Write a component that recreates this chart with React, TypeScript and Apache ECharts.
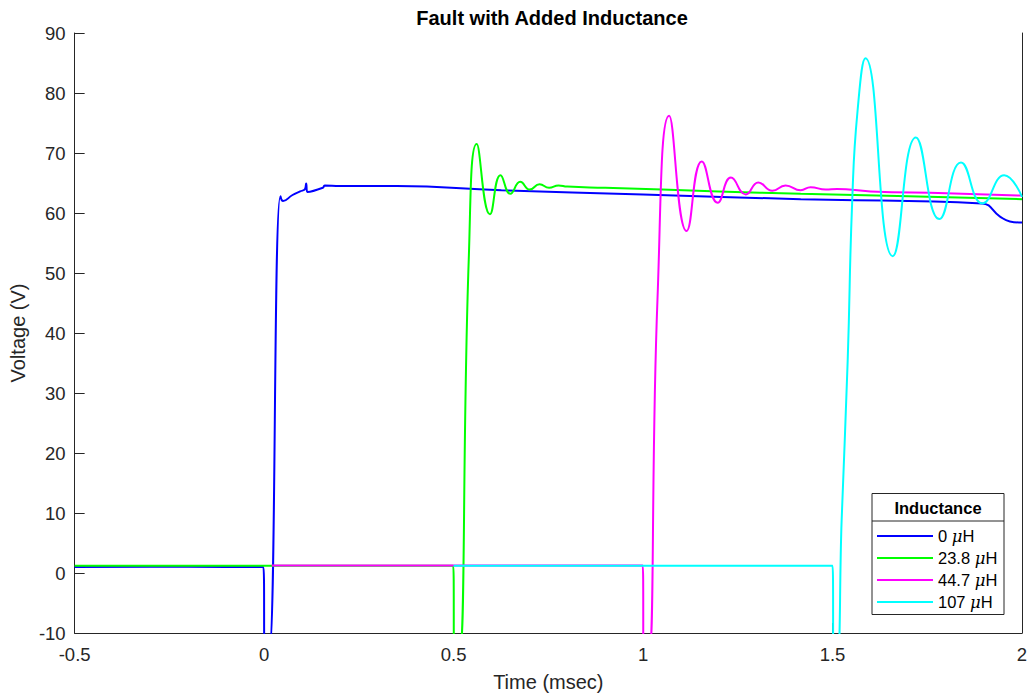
import React, { useEffect, useRef } from "react";
import * as echarts from "echarts";

// ---- data ----
const seriesNames = ["0 μH", "23.8 μH", "44.7 μH", "107 μH"];
const seriesColors = ["#0000ff", "#00ff00", "#ff00ff", "#00ffff"];

const blueT = [-0.5, -0.3, -0.1, -0.002, 0.002, 0.012, 0.043, 0.05, 0.075, 0.095, 0.108, 0.111, 0.114, 0.155, 0.16, 0.2, 0.35, 0.626, 1.0, 1.416, 1.7, 1.894, 1.942, 1.968, 2.0];
const blueV = [1.0, 1.05, 1.0, 1.0, -14, -14, 62.8, 62.0, 63.0, 63.6, 64.0, 64.9, 63.5, 64.2, 64.6, 64.5, 64.5, 63.8, 63.1, 62.3, 62.0, 61.6, 59.4, 58.6, 58.4];

const greenT = [-0.5, -0.2, 0.2, 0.499, 0.502, 0.514, 0.54, 0.561, 0.596, 0.624, 0.65, 0.676, 0.701, 0.727, 0.752, 0.777, 0.8, 0.9, 1.2, 1.416, 1.7, 2.0];
const greenV = [1.2, 1.2, 1.2, 1.2, -14, -14, 52.2, 71.5, 59.8, 66.3, 63.2, 65.2, 63.9, 64.8, 64.2, 64.6, 64.4, 64.2, 63.6, 63.2, 62.8, 62.3];

const magentaT = [0.02, 0.3, 0.6, 0.999, 1.002, 1.014, 1.038, 1.069, 1.115, 1.155, 1.197, 1.232, 1.271, 1.304, 1.341, 1.376, 1.416, 1.442, 1.482, 1.512, 1.6, 1.8, 2.0];
const magentaV = [1.25, 1.25, 1.25, 1.25, -14, -14, 45.5, 76.2, 57.0, 68.6, 61.7, 65.9, 63.1, 65.1, 63.7, 64.6, 63.8, 64.3, 63.9, 64.0, 63.6, 63.3, 62.9];

const cyanT = [0.5, 0.8, 1.2, 1.5, 1.503, 1.512, 1.524, 1.54, 1.552, 1.566, 1.587, 1.659, 1.72, 1.782, 1.839, 1.896, 1.953, 2.0];
const cyanV = [1.2, 1.2, 1.2, 1.2, -14, -14, 8.7, 35.4, 62.1, 77.0, 85.8, 52.8, 72.6, 59.0, 68.4, 61.6, 66.3, 62.7];

const xTicks = { min: -0.5, max: 2, interval: 0.5 };
const yTicks = { min: -10, max: 90, interval: 10 };

const allT = [blueT, greenT, magentaT, cyanT];
const allV = [blueV, greenV, magentaV, cyanV];

const FONT = "'Liberation Sans', Arial, Helvetica, sans-serif";
const AX = "#262626";

export default function App() {
  const ref = useRef<HTMLDivElement>(null);
  useEffect(() => {
    if (!ref.current) return;
    const chart = echarts.init(ref.current, undefined, { renderer: "svg" });
    const series = seriesNames.map((name, i) => ({
      name,
      type: "line",
      data: allT[i].map((t, j) => [t, allV[i][j]]),
      showSymbol: false,
      symbol: "none",
      smooth: 0.5,
      clip: true,
      lineStyle: { width: 2, color: seriesColors[i] },
      itemStyle: { color: seriesColors[i] },
      emphasis: { disabled: true },
      z: 2 + i,
    }));
    const option: any = {
      animation: false,
      color: seriesColors,
      title: {
        text: "Fault with Added Inductance",
        left: 547,
        textAlign: "center",
        top: 3,
        textStyle: { fontFamily: FONT, fontSize: 20, fontWeight: "bold", color: "#000" },
      },
      grid: { left: 72, right: 9, top: 33, bottom: 65, containLabel: false },
      xAxis: {
        type: "value",
        min: xTicks.min,
        max: xTicks.max,
        interval: xTicks.interval,
        name: "Time (msec)",
        nameLocation: "middle",
        nameGap: 39,
        nameTextStyle: { fontFamily: FONT, fontSize: 20, color: AX },
        axisLine: { show: true, onZero: false, lineStyle: { color: AX, width: 1 } },
        axisTick: { show: true, inside: true, length: 10, lineStyle: { color: AX } },
        axisLabel: { fontFamily: FONT, fontSize: 18.5, color: AX, margin: 12 },
        splitLine: { show: false },
      },
      yAxis: [
        {
          type: "value",
          min: yTicks.min,
          max: yTicks.max,
          interval: yTicks.interval,
          name: "Voltage (V)",
          nameLocation: "middle",
          nameGap: 42,
          nameTextStyle: { fontFamily: FONT, fontSize: 20, color: AX },
          axisLine: { show: true, onZero: false, lineStyle: { color: AX, width: 1 } },
          axisTick: { show: true, inside: true, length: 10, lineStyle: { color: AX } },
          axisLabel: { fontFamily: FONT, fontSize: 18.5, color: AX, margin: 9 },
          splitLine: { show: false },
        },
        {
          type: "value",
          position: "right",
          min: yTicks.min,
          max: yTicks.max,
          interval: yTicks.interval,
          axisLine: { show: true, onZero: false, lineStyle: { color: AX, width: 1 } },
          axisTick: { show: false },
          axisLabel: { show: false },
          splitLine: { show: false },
        },
      ],
      legend: {
        orient: "vertical",
        left: 877,
        top: 527,
        padding: 0,
        itemWidth: 56,
        itemHeight: 2,
        itemGap: 4,
        icon: "rect",
        selectedMode: false,
        z: 10,
        data: seriesNames,
        formatter: (name: string) => `{t|${name.replace(" μH", "")} }{mu|μ}{t|H}`,
        textStyle: {
          fontFamily: FONT,
          fontSize: 16.5,
          color: "#000",
          lineHeight: 18,
          rich: {
            t: { fontFamily: FONT, fontSize: 16.5, color: "#000", lineHeight: 18 },
            mu: { fontFamily: "'DejaVu Serif', serif", fontStyle: "italic", fontSize: 16.5, color: "#000", lineHeight: 18 },
          },
        },
      },
      graphic: [
        {
          type: "rect",
          z: 8,
          shape: { x: 872, y: 493.5, width: 132, height: 121 },
          style: { fill: "#fff", stroke: AX, lineWidth: 1 },
        },
        {
          type: "line",
          z: 9,
          shape: { x1: 872, y1: 521, x2: 1004, y2: 521 },
          style: { stroke: AX, lineWidth: 1 },
        },
        {
          type: "text",
          z: 9,
          x: 938,
          y: 508,
          style: {
            text: "Inductance",
            fontFamily: FONT,
            fontSize: 16.5,
            fontWeight: "bold",
            fill: "#000",
            align: "center",
            verticalAlign: "middle",
          },
        },
      ],
      series,
    };
    chart.setOption(option);
    return () => chart.dispose();
  }, []);
  return (
    <div
      ref={ref}
      style={{ position: "fixed", left: 0, top: 0, width: 1031, height: 698, background: "#fff" }}
    />
  );
}
